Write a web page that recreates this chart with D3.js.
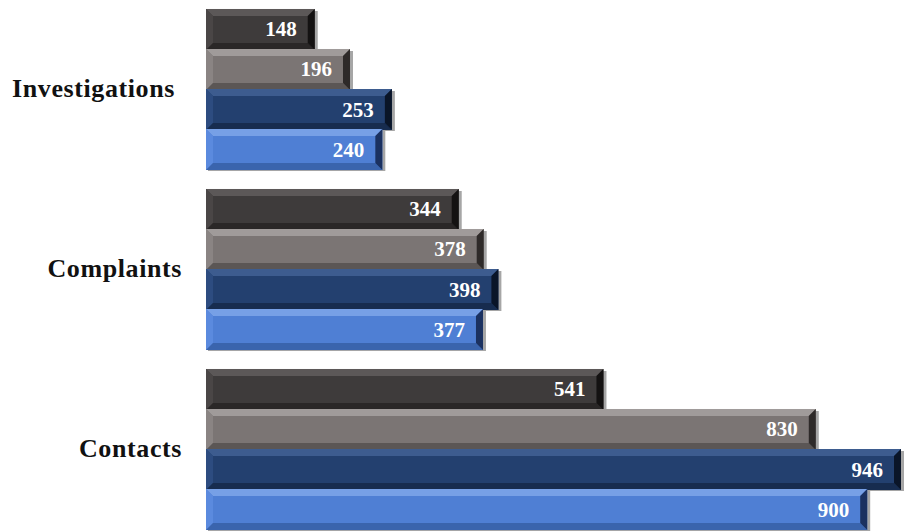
<!DOCTYPE html>
<html>
<head>
<meta charset="utf-8">
<script src="https://cdn.jsdelivr.net/npm/d3@7"></script>
<style>
  body { margin: 0; background: #fff; }
  svg { display: block; }
</style>
</head>
<body>
<div id="main"></div>
<script>
const categories = ['Investigations', 'Complaints', 'Contacts'];
const series1 = [148, 344, 541];
const series2 = [196, 378, 830];
const series3 = [253, 398, 946];
const series4 = [240, 377, 900];
const seriesList = [series1, series2, series3, series4];

// face and bevel shades per series
const palette = [
    { face: '#3e3b3b', top: '#5c5858', bottom: '#2a2727', right: '#141212', left: '#4a4646' },
    { face: '#7b7574', top: '#a09b9a', bottom: '#5b5655', right: '#2e2a29', left: '#8a8483' },
    { face: '#23406f', top: '#3d5c8f', bottom: '#172c4f', right: '#0a1528', left: '#2d4c80' },
    { face: '#4f7fd4', top: '#77a0e6', bottom: '#3a64ad', right: '#1b3160', left: '#5b8ade' }
];

const W = 905, H = 532;
const svg = d3.select('#main').append('svg').attr('width', W).attr('height', H);

const y = d3.scaleBand().domain(categories).range([-1, 539]).paddingInner(0.111).paddingOuter(0.0555);
const ySub = d3.scaleBand().domain(d3.range(seriesList.length)).range([0, y.bandwidth()]);
const x = d3.scaleLinear().domain([0, 946]).range([206, 901]);

const bars = [];
categories.forEach((c, ci) => {
    seriesList.forEach((s, si) => bars.push({ cat: c, si: si, value: s[ci] }));
});

const bev = 7;
const g = svg.selectAll('g.bar').data(bars).enter().append('g').attr('class', 'bar')
    .attr('transform', d => 'translate(' + x(0) + ',' + (y(d.cat) + ySub(d.si)) + ')');

const bw = d => x(d.value) - x(0);
const bh = ySub.bandwidth() + 1;

// drop shadow on the right/bottom
g.append('rect')
    .attr('x', 2).attr('y', 2)
    .attr('width', d => bw(d) + 1).attr('height', bh - 1)
    .attr('fill', 'rgba(0,0,0,0.35)');

g.append('rect')
    .attr('width', bw).attr('height', bh)
    .attr('fill', d => palette[d.si].face);

// top bevel
g.append('polygon')
    .attr('points', d => [[0, 0], [bw(d), 0], [bw(d) - bev, bev], [bev, bev]].join(' '))
    .attr('fill', d => palette[d.si].top);
// left bevel
g.append('polygon')
    .attr('points', d => [[0, 0], [bev, bev], [bev, bh - bev], [0, bh]].join(' '))
    .attr('fill', d => palette[d.si].left);
// bottom bevel
g.append('polygon')
    .attr('points', d => [[0, bh], [bev, bh - bev], [bw(d) - bev, bh - bev], [bw(d), bh]].join(' '))
    .attr('fill', d => palette[d.si].bottom);
// right bevel
g.append('polygon')
    .attr('points', d => [[bw(d), 0], [bw(d), bh], [bw(d) - bev, bh - bev], [bw(d) - bev, bev]].join(' '))
    .attr('fill', d => palette[d.si].right);

g.append('text')
    .attr('x', d => bw(d) - 18)
    .attr('y', bh / 2 + 7)
    .attr('text-anchor', 'end')
    .attr('fill', '#fff')
    .attr('font-family', 'Liberation Serif, serif')
    .attr('font-weight', 'bold')
    .attr('font-size', 21)
    .text(d => d.value);

svg.selectAll('text.cat').data(categories).enter().append('text')
    .attr('class', 'cat')
    .attr('x', d => d === 'Investigations' ? 175 : 182)
    .attr('y', d => y(d) + y.bandwidth() / 2 + 8)
    .attr('text-anchor', 'end')
    .attr('font-family', 'Liberation Serif, serif')
    .attr('font-weight', 'bold')
    .attr('font-size', 26)
    .attr('letter-spacing', 0.6)
    .attr('fill', '#111')
    .text(d => d);
</script>
</body>
</html>
